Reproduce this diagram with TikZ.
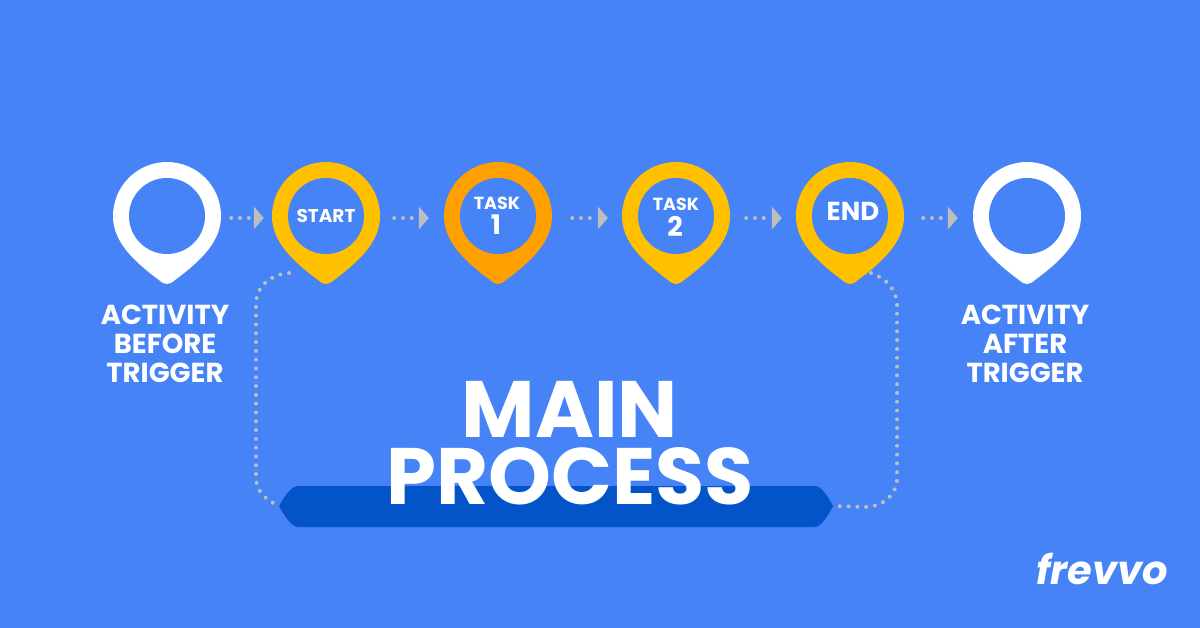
\documentclass[tikz,border=0pt]{standalone}
\usepackage{fontspec}
\setmainfont{Poppins}
\usetikzlibrary{arrows.meta}
\definecolor{bgblue}{HTML}{4583F6}
\definecolor{bannerblue}{HTML}{0353C9}
\definecolor{pingold}{HTML}{FFC000}
\definecolor{pinorange}{HTML}{FF9F00}
\definecolor{dotgrey}{HTML}{BDBEC0}
\tikzset{
	hole/.style = {circle, fill=bgblue, inner sep=0pt, minimum size=76pt},
	flowline/.style = {dotgrey, line width=4pt, line cap=round, dash pattern=on 0pt off 8.8pt},
	flowtip/.style = {-{Triangle[line width=0pt, length=10pt, width=23pt, fill=dotgrey, sep=0pt]}},
	caption/.style = {text=white, font=\fontsize{27.5}{29}\selectfont\bfseries, align=center, inner sep=0pt},
	holetext/.style = {text=white, font=\fontsize{17.5}{19}\selectfont\bfseries, align=center, inner sep=0pt},
	bigtext/.style = {text=white, font=\fontsize{80}{80}\selectfont\bfseries, inner sep=0pt}
}
% map pin: name, x, y, colour
\newcommand{\locpin}[4]{
	\fill[#4] (#2,#3+68) .. controls (#2-3,#3+68) and (#2-5,#3+66.5) .. (#2-8,#3+64)
		.. controls (#2-35,#3+44) and (#2-54,#3+25) .. (#2-54,#3)
		.. controls (#2-54,#3-29.8) and (#2-29.8,#3-54) .. (#2,#3-54)
		.. controls (#2+29.8,#3-54) and (#2+54,#3-29.8) .. (#2+54,#3)
		.. controls (#2+54,#3+25) and (#2+35,#3+44) .. (#2+8,#3+64)
		.. controls (#2+5,#3+66.5) and (#2+3,#3+68) .. cycle;
	\node[hole] (#1) at (#2,#3) {};
}
\begin{document}
\begin{tikzpicture}[x=1pt, y=-1pt]
	\fill[bgblue] (0,0) rectangle (1200,628);
	\useasboundingbox (0,0) rectangle (1200,628);

	\locpin{before}{167}{216}{white}
	\locpin{start}{326}{216}{pingold}
	\locpin{taskone}{498}{216}{pinorange}
	\locpin{tasktwo}{676}{216}{pingold}
	\locpin{finish}{850}{216}{pingold}
	\locpin{after}{1027}{216}{white}

	\node[holetext, font=\fontsize{18.5}{19}\selectfont\bfseries] (starttext) at (326,216) {START};
	\node[holetext] (taskonetext) at (497,203) {TASK};
	\node[holetext, font=\fontsize{27}{27}\selectfont\bfseries] (taskonenum) at (496,225) {1};
	\node[holetext] (tasktwotext) at (676,204) {TASK};
	\node[holetext, font=\fontsize{27}{27}\selectfont\bfseries] (tasktwonum) at (675,226) {2};
	\node[holetext, font=\fontsize{26}{26}\selectfont\bfseries] (finishtext) at (853,211) {END};

	\draw[flowline, flowtip, shorten <=26pt, shorten >=24pt] ([yshift=-2pt]before.east) -- ([yshift=-2pt]start.west);
	\draw[flowline, flowtip, shorten <=30pt, shorten >=31pt] ([yshift=-2pt]start.east) -- ([yshift=-2pt]taskone.west);
	\draw[flowline, flowtip, shorten <=36pt, shorten >=30pt] ([yshift=-2pt]taskone.east) -- ([yshift=-2pt]tasktwo.west);
	\draw[flowline, flowtip, shorten <=32pt, shorten >=30pt] ([yshift=-2pt]tasktwo.east) -- ([yshift=-2pt]finish.west);
	\draw[flowline, flowtip, shorten <=35pt, shorten >=31pt] ([yshift=-2pt]finish.east) -- ([yshift=-2pt]after.west);

	\node[caption] (beforetext) at (165,344) {ACTIVITY\\BEFORE\\TRIGGER};
	\node[caption] (aftertext) at (1025,344) {ACTIVITY\\AFTER\\TRIGGER};

	% banner under the big title
	\coordinate (bannerleft) at (279,506);
	\coordinate (bannerright) at (833,506);
	\coordinate (startfoot) at (289,273);
	\coordinate (finishfoot) at (871,273);
	\fill[bannerblue] (bannerleft) .. controls (285,495) and (292,486) .. (298,486) -- (815,486)
		.. controls (821,486) and (827,495) .. (bannerright)
		.. controls (827,517) and (821,527) .. (815,527) -- (298,527)
		.. controls (292,527) and (285,517) .. cycle;
	\draw[flowline] (startfoot) .. controls (268,275) and (256,288) .. (256,305) -- (256,478)
		.. controls (256,490) and (264,499) .. (bannerleft);
	\draw[flowline] (finishfoot) .. controls (886,278) and (897,290) .. (897,305) -- (897,478)
		.. controls (897,497) and (880,507) .. (865,507) -- (bannerright);

	\node[bigtext] (maintext) at (570,409) {MAIN};
	\node[bigtext] (processtext) at (570,476) {PROCESS};

	\node[text=white, inner sep=0pt, font=\fontsize{40}{40}\selectfont\bfseries\itshape] (logo) at (1102,569) {frevvo};
\end{tikzpicture}
\end{document}
